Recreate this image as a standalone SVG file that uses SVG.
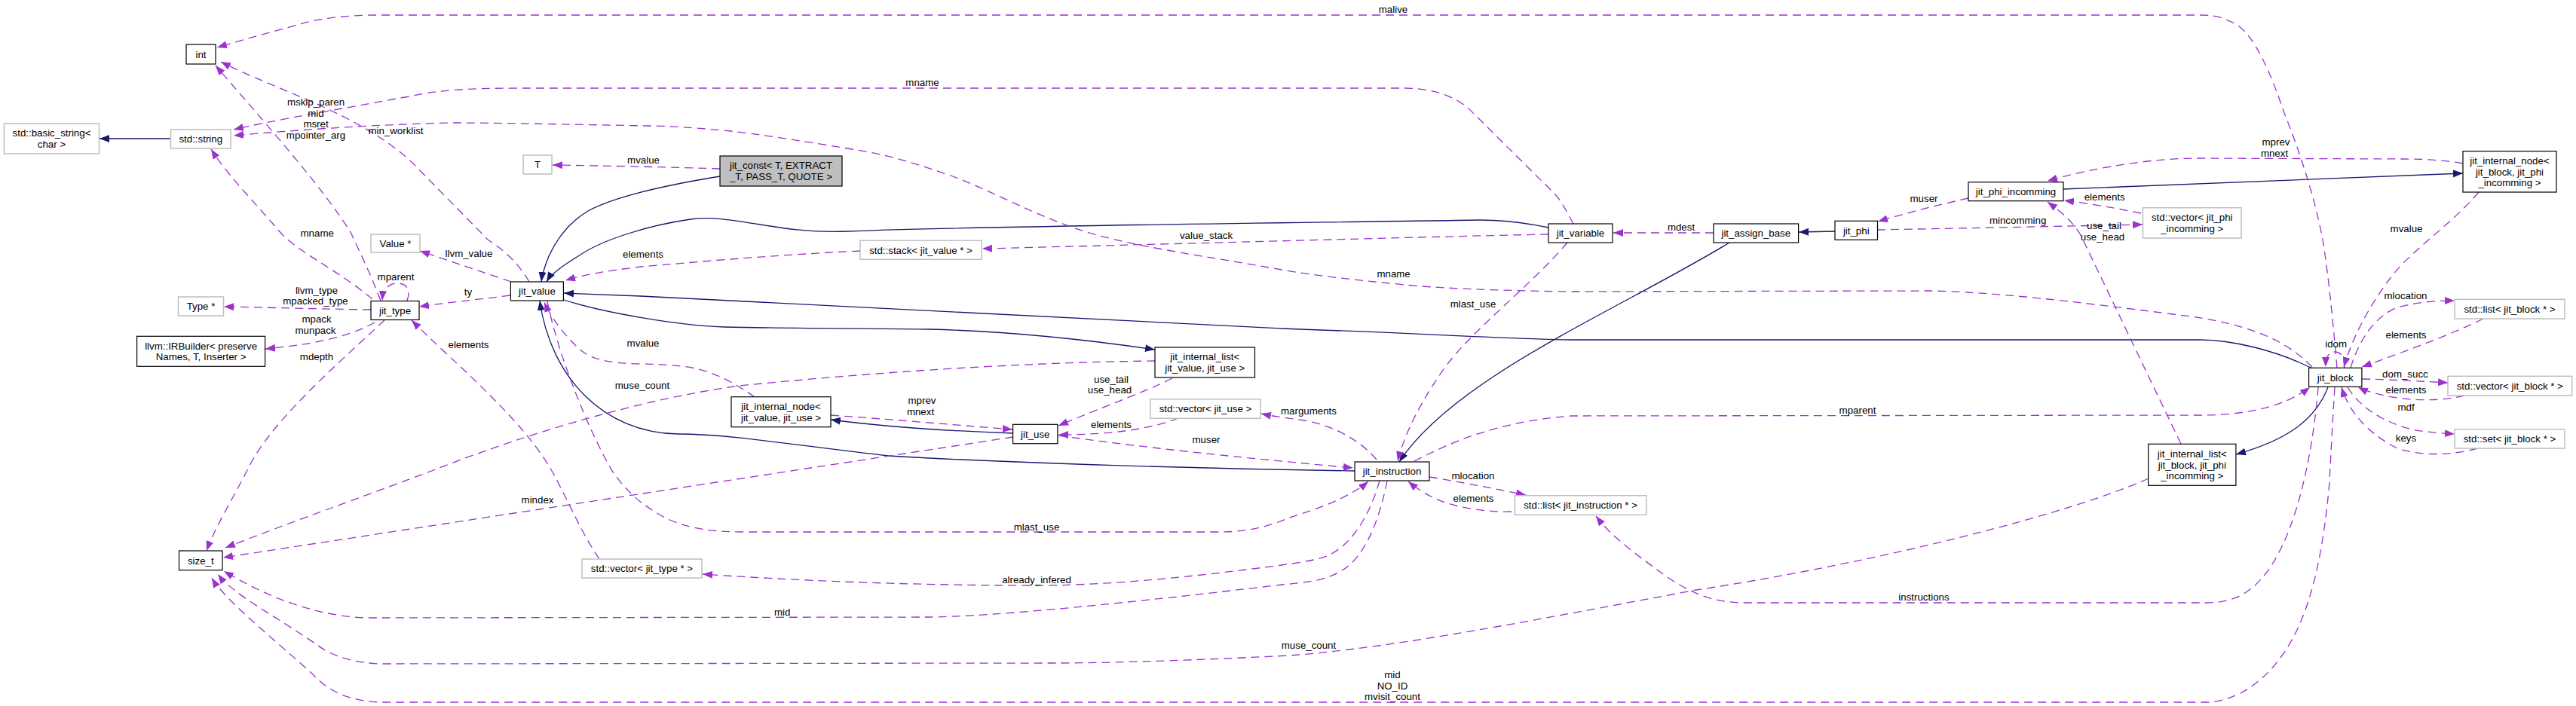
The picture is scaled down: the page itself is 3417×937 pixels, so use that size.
<svg xmlns="http://www.w3.org/2000/svg" width="3417" height="937" viewBox="0 0 3417 937">
<style>
.bg{fill:#fff}
.nb{fill:#fff;stroke:#000;stroke-width:1.2}
.ng{fill:#fff;stroke:#bfbfbf;stroke-width:1.5}
.nf{fill:#bfbfbf;stroke:#000;stroke-width:1.2}
text{font-family:"Liberation Sans",Arial,Helvetica,sans-serif;font-size:13.3px;fill:#000;text-anchor:middle}
.u{fill:none;stroke:#9a32cd;stroke-width:1.3;stroke-dasharray:11,7;marker-end:url(#ap)}
.i{fill:none;stroke:#191970;stroke-width:1.3;marker-end:url(#ab)}
</style>
<defs>
<marker id="ap" markerUnits="userSpaceOnUse" markerWidth="14" markerHeight="11" refX="13" refY="5" orient="auto"><path d="M0,0 L13,5 L0,10 z" fill="#9a32cd" stroke="none"/></marker>
<marker id="ab" markerUnits="userSpaceOnUse" markerWidth="14" markerHeight="11" refX="13" refY="5" orient="auto"><path d="M0,0 L13,5 L0,10 z" fill="#191970" stroke="none"/></marker>
</defs>
<rect class="bg" x="0" y="0" width="3417" height="937"/>

<g id="connectors">
<!-- inheritance -->
<path class="i" d="M955,234 C900,243 820,258 780,280 C755,295 738,318 728,340 C722,355 719,365 718,374"/>
<path class="i" d="M2054,302 C2015,294 1990,292 1963,292 C1700,296 1300,300 1124,307 C1030,311 970,283 916,291 C860,299 800,318 770,338 C748,352 732,362 725,374"/>
<path class="i" d="M3067,489 C3020,465 2960,451 2918,451 L2084,451 C2000,450 1900,443 1700,436 C1400,421 1100,404 850,393 C800,391 770,390 748,389"/>
<path class="i" d="M748,398 C800,415 900,432 960,434 C1050,436 1150,436 1234,437 C1350,440 1450,452 1532,464"/>
<path class="i" d="M1797,625 C1600,622 1350,615 1179,605 C1060,592 970,576 900,576 C800,575 730,500 716,399"/>
<path class="i" d="M2294,322 C2150,410 1930,500 1856,613"/>
<path class="i" d="M2434,307 L2386,308"/>
<path class="i" d="M2737,251 L3267,230"/>
<path class="i" d="M1344,575 C1260,572 1170,566 1102,557"/>
<path class="i" d="M3088,514 C3070,560 3030,585 2966,603"/>
<path class="i" d="M226,184 L132,184"/>
<!-- usage -->
<path class="u" d="M3100,488 C3094,420 3088,360 3081,318 C3070,260 3050,200 3030,150 C3010,90 2990,50 2970,35 C2955,25 2940,20 2920,20 L494,20 C450,21 420,25 395,33 C350,45 315,55 288,63"/>
<path class="u" d="M955,224 C900,222 800,220 733,219"/>
<path class="u" d="M702,374 C685,345 665,330 647,318 C610,280 580,250 548,217 C510,180 450,150 395,127 C350,108 318,95 293,82"/>
<path class="u" d="M505,399 C490,360 475,330 466,310 C430,250 340,150 286,87"/>
<path class="u" d="M540,399 C545,385 540,376 527,376 C515,376 508,385 507,399"/>
<path class="u" d="M492,411 C420,410 350,408 297,407"/>
<path class="u" d="M497,428 C475,440 440,455 352,463"/>
<path class="u" d="M494,397 C450,360 405,340 375,312 C330,260 300,230 280,198"/>
<path class="u" d="M678,374 L557,333"/>
<path class="u" d="M677,392 C630,398 590,402 556,407"/>
<path class="u" d="M795,742 C772,708 757,672 738,636 C700,560 600,480 546,425"/>
<path class="u" d="M1141,333 C1000,340 900,350 850,354 C800,360 775,365 750,372"/>
<path class="u" d="M2054,311 C1900,314 1700,320 1500,325 C1420,327 1350,329 1303,330"/>
<path class="u" d="M2087,297 C2078,280 2070,265 2062,257 L1947,143 C1925,125 1895,117 1864,117 L686,117 C620,117 580,120 548,127 C450,145 360,160 310,172"/>
<path class="u" d="M3067,487 C3040,460 3000,430 2882,417 C2750,400 2650,388 2560,386 L2084,387 C1990,386 1900,382 1864,378 C1800,372 1740,365 1700,358 C1600,340 1520,330 1448,310 C1380,290 1320,255 1261,233 C1200,212 1170,204 1124,197 C1050,185 1000,177 960,173 C900,168 880,167 860,167 C750,165 650,163 603,163 C500,165 400,172 310,180"/>
<path class="u" d="M1001,527 C970,505 940,490 905,486 C880,484 870,483 850,483 C800,482 780,475 765,460 C745,440 730,420 722,401"/>
<path class="u" d="M1102,551 C1200,558 1280,565 1343,570"/>
<path class="u" d="M1555,502 C1520,520 1450,545 1404,565"/>
<path class="u" d="M1563,555 C1520,572 1460,577 1404,577"/>
<path class="u" d="M1404,578 C1500,592 1650,608 1795,621"/>
<path class="u" d="M1344,580 L296,740"/>
<path class="u" d="M1532,479 C1350,481 1150,495 980,512 C850,530 700,575 575,624 C480,660 380,695 299,727"/>
<path class="u" d="M510,425 C440,490 360,560 330,620 C310,660 285,700 274,731"/>
<path class="u" d="M1840,638 C1830,690 1810,740 1780,757 C1760,770 1735,773 1700,776 C1500,800 1320,818 1234,819 L494,820 C420,820 350,790 297,758"/>
<path class="u" d="M2850,635 C2750,680 2500,745 2250,783 C2050,820 1850,860 1710,870 C1550,878 1450,880 1400,880 L510,881 C470,881 440,870 422,857 C370,820 310,790 289,762"/>
<path class="u" d="M3097,514 C3094,560 3092,600 3090,640 C3083,720 3070,790 3045,840 C3020,890 2980,928 2930,932 L510,932 C470,932 440,920 420,900 C390,870 300,800 281,767"/>
<path class="u" d="M3075,514 C3068,600 3048,700 3010,755 C2985,790 2960,800 2926,800 L2314,800 C2270,800 2240,785 2210,765 C2170,735 2140,715 2117,685"/>
<path class="u" d="M1876,612 C1920,590 1980,560 2084,552 L2926,551 C2980,550 3030,540 3064,514"/>
<path class="u" d="M2079,322 C2030,380 1950,440 1915,490 C1880,540 1862,580 1854,612"/>
<path class="u" d="M1826,610 C1805,585 1770,565 1730,558 C1710,555 1690,553 1673,549"/>
<path class="u" d="M726,400 C740,470 780,570 812,625 C830,650 845,665 870,680 C900,700 940,706 987,706 L1618,706 C1660,706 1690,696 1710,687 C1750,675 1790,660 1815,639"/>
<path class="u" d="M1830,638 C1815,690 1790,725 1760,738 C1740,745 1720,747 1700,750 C1550,770 1450,777 1375,777 C1200,777 1050,770 932,762"/>
<path class="u" d="M1896,633 C1940,640 1990,650 2024,657"/>
<path class="u" d="M2005,679 C1960,680 1920,670 1900,660 C1885,652 1875,645 1868,639"/>
<path class="u" d="M2273,309 L2140,309"/>
<path class="u" d="M2611,263 C2580,270 2530,282 2491,294"/>
<path class="u" d="M2490,305 C2600,303 2750,300 2842,298"/>
<path class="u" d="M2840,283 C2800,275 2770,270 2738,266"/>
<path class="u" d="M3267,217 C3240,212 3210,211 3186,211 L2909,210 C2850,211 2780,222 2716,240"/>
<path class="u" d="M2893,589 L2760,312 C2750,295 2735,282 2716,268"/>
<path class="u" d="M3288,255 C3250,300 3200,330 3170,370 C3140,410 3120,450 3109,487"/>
<path class="u" d="M3110,488 C3110,472 3104,467 3097,467 C3090,467 3085,472 3085,487"/>
<path class="u" d="M3118,488 C3130,450 3150,420 3180,408 C3210,400 3235,399 3256,399"/>
<path class="u" d="M3294,423 C3250,445 3180,470 3133,487"/>
<path class="u" d="M3133,503 C3180,504 3210,506 3247,508"/>
<path class="u" d="M3269,525 C3240,532 3210,532 3180,528 C3160,525 3140,520 3128,514"/>
<path class="u" d="M3114,514 C3130,540 3160,560 3200,570 C3220,574 3240,575 3256,576"/>
<path class="u" d="M3286,595 C3250,605 3210,605 3180,595 C3140,575 3115,545 3106,514"/>
<!-- labels -->
<text x="1848" y="17">malive</text>
<text x="1223.5" y="114">mname</text>
<text x="419" y="140">mskip_paren</text>
<text x="419" y="154.7">mid</text>
<text x="419" y="169.4">msret</text>
<text x="419" y="184.1">mpointer_arg</text>
<text x="525" y="177.7">min_worklist</text>
<text x="853.5" y="217">mvalue</text>
<text x="420.7" y="314">mname</text>
<text x="622" y="340.7">llvm_value</text>
<text x="525" y="371.7">mparent</text>
<text x="420" y="389.7">llvm_type</text>
<text x="418.5" y="404.4">mpacked_type</text>
<text x="621" y="392.3">ty</text>
<text x="420" y="428">mpack</text>
<text x="418.5" y="442.7">munpack</text>
<text x="420" y="478">mdepth</text>
<text x="621.5" y="461.7">elements</text>
<text x="853" y="342">elements</text>
<text x="853" y="460">mvalue</text>
<text x="852" y="516">muse_count</text>
<text x="1600" y="316.7">value_stack</text>
<text x="2230" y="306">mdest</text>
<text x="2552" y="268">muser</text>
<text x="3019" y="193.3">mprev</text>
<text x="3017" y="208">mnext</text>
<text x="2791.7" y="266">elements</text>
<text x="2676.6" y="297.3">mincomming</text>
<text x="2791" y="304">use_tail</text>
<text x="2789" y="318.7">use_head</text>
<text x="3192" y="307.7">mvalue</text>
<text x="1474" y="507.7">use_tail</text>
<text x="1472" y="522.4">use_head</text>
<text x="1223" y="536">mprev</text>
<text x="1221" y="550.7">mnext</text>
<text x="1474" y="568">elements</text>
<text x="1600" y="588.3">muser</text>
<text x="1848.6" y="367.7">mname</text>
<text x="1954" y="407.7">mlast_use</text>
<text x="1736" y="549.7">marguments</text>
<text x="2464" y="549">mparent</text>
<text x="3191" y="396.7">mlocation</text>
<text x="3191.5" y="448.7">elements</text>
<text x="3098.6" y="460.7">idom</text>
<text x="3190.4" y="500.7">dom_succ</text>
<text x="3191.5" y="521.7">elements</text>
<text x="3191.5" y="545">mdf</text>
<text x="3191.5" y="585.7">keys</text>
<text x="713" y="667.7">mindex</text>
<text x="1375" y="704">mlast_use</text>
<text x="1375" y="773.7">already_infered</text>
<text x="1037.6" y="816.7">mid</text>
<text x="1954" y="636">mlocation</text>
<text x="1954.5" y="665.7">elements</text>
<text x="1736" y="861">muse_count</text>
<text x="1847" y="900">mid</text>
<text x="1847" y="914.7">NO_ID</text>
<text x="1847" y="929.4">mvisit_count</text>
<text x="2552" y="797">instructions</text>
</g>

<g id="n_int"><rect class="nb" x="247" y="59" width="39" height="26"/><text x="266.5" y="76.7">int</text></g>
<g id="n_basic_string"><rect class="ng" x="5.5" y="164" width="126" height="40"/><text x="68.5" y="181.4">std::basic_string&lt;</text><text x="68.5" y="196">char &gt;</text></g>
<g id="n_string"><rect class="ng" x="226.5" y="172" width="79.5" height="25"/><text x="266.25" y="189.2">std::string</text></g>
<g id="n_T"><rect class="ng" x="694" y="206" width="38" height="25"/><text x="713" y="223.2">T</text></g>
<g id="n_jit_const"><rect class="nf" x="955" y="207" width="162" height="40"/><text x="1036" y="224.4">jit_const&lt; T, EXTRACT</text><text x="1036" y="239">_T, PASS_T, QUOTE &gt;</text></g>
<g id="n_Value"><rect class="ng" x="492" y="311" width="65" height="24"/><text x="524.5" y="327.7">Value *</text></g>
<g id="n_jit_type"><rect class="nb" x="492" y="399.5" width="64" height="25"/><text x="524" y="416.7">jit_type</text></g>
<g id="n_Type"><rect class="ng" x="236.5" y="394" width="60" height="25"/><text x="266.5" y="411.2">Type *</text></g>
<g id="n_IRBuilder"><rect class="nb" x="181.6" y="446.3" width="170" height="40"/><text x="266.6" y="463.7">llvm::IRBuilder&lt; preserve</text><text x="266.6" y="478.4">Names, T, Inserter &gt;</text></g>
<g id="n_jit_value"><rect class="nb" x="677.4" y="374" width="70" height="25"/><text x="712.4" y="391.2">jit_value</text></g>
<g id="n_size_t"><rect class="nb" x="237.5" y="731" width="57.5" height="25.7"/><text x="266.25" y="748.5">size_t</text></g>
<g id="n_vec_type"><rect class="ng" x="772" y="742" width="159" height="25"/><text x="851.5" y="759.2">std::vector&lt; jit_type * &gt;</text></g>
<g id="n_stack"><rect class="ng" x="1141" y="319.3" width="161" height="25"/><text x="1221.5" y="336.5">std::stack&lt; jit_value * &gt;</text></g>
<g id="n_ilist_value"><rect class="nb" x="1532" y="461" width="132.5" height="40"/><text x="1598.25" y="478.4">jit_internal_list&lt;</text><text x="1598.25" y="493">jit_value, jit_use &gt;</text></g>
<g id="n_inode_value"><rect class="nb" x="970" y="526.7" width="132" height="40"/><text x="1036" y="544">jit_internal_node&lt;</text><text x="1036" y="558.7">jit_value, jit_use &gt;</text></g>
<g id="n_jit_use"><rect class="nb" x="1343.6" y="563.3" width="59.3" height="25.4"/><text x="1373.25" y="580.7">jit_use</text></g>
<g id="n_vec_use"><rect class="ng" x="1525.8" y="529.7" width="146.4" height="25.6"/><text x="1599" y="547.2">std::vector&lt; jit_use &gt;</text></g>
<g id="n_jit_instruction"><rect class="nb" x="1797" y="613" width="99" height="25"/><text x="1846.5" y="630.2">jit_instruction</text></g>
<g id="n_list_instr"><rect class="ng" x="2009.4" y="657.7" width="174.4" height="25.6"/><text x="2096.6" y="675.2">std::list&lt; jit_instruction * &gt;</text></g>
<g id="n_jit_variable"><rect class="nb" x="2054" y="297" width="85" height="25"/><text x="2096.5" y="314.2">jit_variable</text></g>
<g id="n_jit_assign_base"><rect class="nb" x="2273" y="297" width="112.6" height="25"/><text x="2329.3" y="314.2">jit_assign_base</text></g>
<g id="n_jit_phi"><rect class="nb" x="2434" y="293.3" width="56.5" height="25"/><text x="2462.25" y="310.5">jit_phi</text></g>
<g id="n_jit_phi_incomming"><rect class="nb" x="2611" y="241.7" width="126" height="25"/><text x="2674" y="258.9">jit_phi_incomming</text></g>
<g id="n_inode_block"><rect class="nb" x="3267" y="200.7" width="124" height="54.3"/><text x="3329" y="217.9">jit_internal_node&lt;</text><text x="3329" y="232.6">jit_block, jit_phi</text><text x="3329" y="247.3">_incomming &gt;</text></g>
<g id="n_vec_phi"><rect class="ng" x="2842.5" y="275.7" width="130.5" height="40.3"/><text x="2907.75" y="293.2">std::vector&lt; jit_phi</text><text x="2907.75" y="307.9">_incomming &gt;</text></g>
<g id="n_jit_block"><rect class="nb" x="3062.6" y="488.3" width="70.3" height="25"/><text x="3097.75" y="505.5">jit_block</text></g>
<g id="n_list_block"><rect class="ng" x="3256" y="397.3" width="146" height="25.7"/><text x="3329" y="414.9">std::list&lt; jit_block * &gt;</text></g>
<g id="n_vec_block"><rect class="ng" x="3247" y="499.3" width="164.6" height="25.7"/><text x="3329.3" y="516.9">std::vector&lt; jit_block * &gt;</text></g>
<g id="n_set_block"><rect class="ng" x="3256" y="569.7" width="146" height="25.3"/><text x="3329" y="587">std::set&lt; jit_block * &gt;</text></g>
<g id="n_ilist_block"><rect class="nb" x="2849.7" y="589.3" width="116.2" height="55"/><text x="2907.8" y="606.8">jit_internal_list&lt;</text><text x="2907.8" y="621.5">jit_block, jit_phi</text><text x="2907.8" y="636.2">_incomming &gt;</text></g>
</svg>
